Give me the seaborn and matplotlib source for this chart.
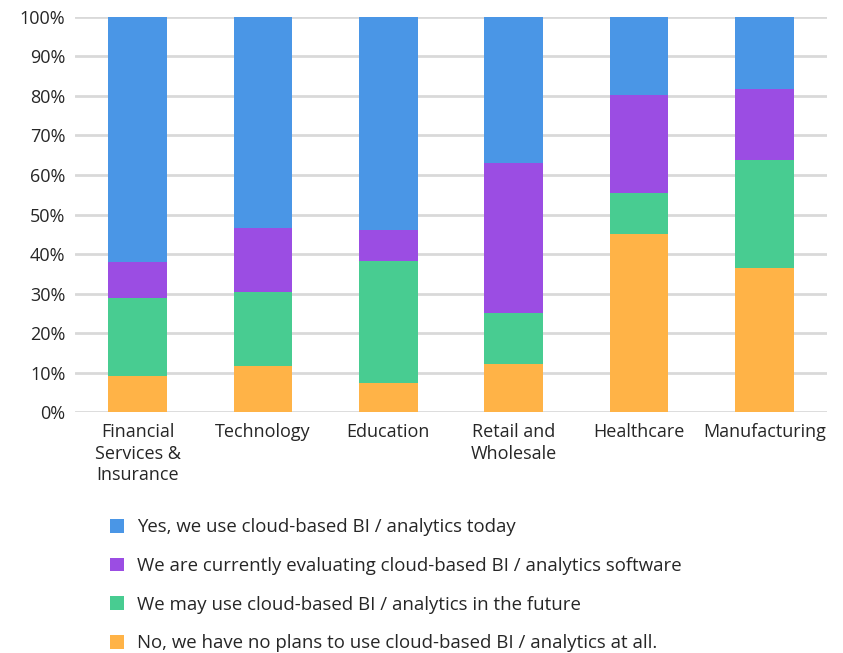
import numpy as np
import pandas as pd
import matplotlib
matplotlib.use('Agg')
import matplotlib.pyplot as plt
import seaborn as sns
from matplotlib.patches import Patch

# categories and stacked shares (percent)
industries = ['Financial\nServices &\nInsurance', 'Technology', 'Education',
              'Retail and\nWholesale', 'Healthcare', 'Manufacturing']
no_plans = [9.1, 11.6, 7.3, 12.2, 45.1, 36.5]
may_use = [19.8, 18.8, 30.9, 12.9, 10.3, 27.3]
evaluating = [9.1, 16.2, 7.9, 37.9, 24.9, 18.0]
yes_today = [62.0, 53.4, 53.9, 37.0, 19.7, 18.2]

series_names = ['Yes, we use cloud-based BI / analytics today',
                'We are currently evaluating cloud-based BI / analytics software',
                'We may use cloud-based BI / analytics in the future',
                'No, we have no plans to use cloud-based BI / analytics at all.']
colors = ['#4A96E6', '#9B4DE3', '#48CC91', '#FFB347']

sns.set_style('white')
plt.rcParams['font.family'] = ['Open Sans', 'DejaVu Sans']

df = pd.DataFrame({'industry': industries, 'no': no_plans, 'may': may_use,
                   'eval': evaluating, 'yes': yes_today})
# cumulative tops, bottom series first
df['c_no'] = df['no']
df['c_may'] = df['c_no'] + df['may']
df['c_eval'] = df['c_may'] + df['eval']
df['c_yes'] = df['c_eval'] + df['yes']

fig = plt.figure(figsize=(8.43, 6.53), dpi=100)
ax = fig.add_axes([0.089, 0.369, 0.892, 0.605])

# draw tallest layer first so shorter ones sit on top
for col, c in zip(['c_yes', 'c_eval', 'c_may', 'c_no'], colors):
    sns.barplot(data=df, x='industry', y=col, color=c, width=0.47,
                saturation=1, ax=ax, zorder=3, linewidth=0, edgecolor='none')

ax.set_ylim(0, 100)
ax.set_xlim(-0.5, 5.5)
ax.set_yticks(np.arange(0, 101, 10))
ax.set_yticklabels([f'{v}%' for v in range(0, 101, 10)])
ax.yaxis.grid(True, color='#d9d9d9', linewidth=2, zorder=0)
ax.set_axisbelow(True)
for s in ax.spines.values():
    s.set_visible(False)
ax.tick_params(axis='both', length=0, labelsize=13, colors='#262626')
ax.tick_params(axis='x', pad=8)
ax.tick_params(axis='y', pad=7)
for t in ax.get_xticklabels():
    t.set_linespacing(1.25)
ax.set_xlabel('')
ax.set_ylabel('')

handles = [Patch(facecolor=c, edgecolor='none') for c in colors]
fig.legend(handles, series_names, loc='upper left', bbox_to_anchor=(0.131, 0.206),
           frameon=False, fontsize=13.4, handlelength=0.75, handleheight=0.75,
           handletextpad=0.68, labelspacing=1.11, labelcolor='#262626',
           borderaxespad=0, borderpad=0)

fig.savefig('out.png', dpi=100)
